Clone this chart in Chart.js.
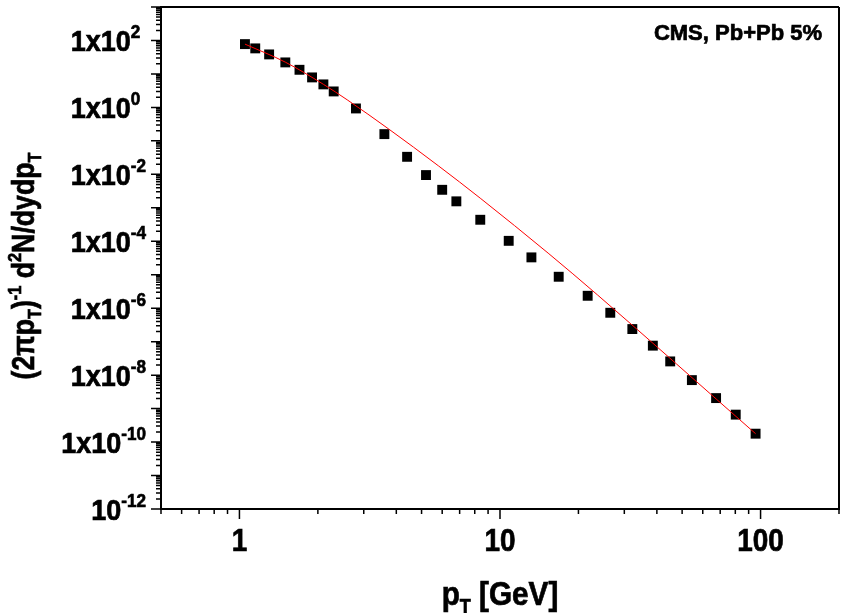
<!DOCTYPE html>
<html>
<head>
<meta charset="utf-8">
<script src="https://cdn.jsdelivr.net/npm/chart.js@4.4.0/dist/chart.umd.min.js"></script>
<style>
  html, body { margin: 0; padding: 0; background: #fff; }
</style>
</head>
<body>
<canvas id="spectrum" width="846" height="613"></canvas>
<script>
// CMS Pb+Pb 5% data points
const ptValues = [1.05, 1.15, 1.3, 1.5, 1.7, 1.9, 2.1, 2.3, 2.8, 3.6, 4.4, 5.2, 6.0, 6.8, 8.4,
  10.8, 13.2, 16.8, 21.7, 26.5, 32.2, 38.6, 45, 54.5, 67.5, 80.3, 95.7]
const yieldValues = [77.8, 58, 38.3, 22.1, 13.3, 7.87, 4.87, 3.0, 0.93, 0.159, 0.0334, 0.0095, 0.00345, 0.00156, 4.39e-4,
  1.03e-4, 3.3e-5, 8.7e-6, 2.35e-6, 7.3e-7, 2.38e-7, 7.6e-8, 2.57e-8, 7.1e-9, 2.06e-9, 6.6e-10, 1.78e-10]

// red fit curve
const fitPt = [1.05, 1.5, 2.1, 2.59, 3.74, 5.8, 8.44, 15.3, 23.7, 95.7]
const fitYield = [77.8, 22.5, 4.9, 1.69, 0.226, 0.018, 1.88e-3, 4.43e-5, 2.47e-6, 1.78e-10]

// tick labels
const xTickValues = [1, 10, 100]
const xTickLabels = ['1', '10', '100']
const yTickExponents = [2, 0, -2, -4, -6, -8, -10, -12]

const FONT = '"Liberation Sans", Arial, sans-serif'
const NARROW = 0.9

function drawRich(ctx, parts, x, y, align, sx, rotate) {
  let total = 0
  parts.forEach(p => {
    ctx.font = `bold ${p.size}px ${FONT}`
    p.w = ctx.measureText(p.t).width
    total += p.w
  })
  let cx = align === 'right' ? -total : align === 'center' ? -total / 2 : 0
  ctx.save()
  ctx.translate(x, y)
  if (rotate) ctx.rotate(rotate)
  ctx.scale(sx, 1)
  ctx.fillStyle = '#000'
  ctx.strokeStyle = '#000'
  ctx.lineWidth = 0.7
  ctx.textBaseline = 'alphabetic'
  ctx.textAlign = 'left'
  parts.forEach(p => {
    ctx.font = `bold ${p.size}px ${FONT}`
    ctx.fillText(p.t, cx, p.dy || 0)
    ctx.strokeText(p.t, cx, p.dy || 0)
    cx += p.w
  })
  ctx.restore()
}

const axesPlugin = {
  id: 'originAxes',
  afterDraw(chart) {
    const ctx = chart.ctx
    const area = chart.chartArea
    const xs = chart.scales.x
    const ys = chart.scales.y

    // frame top and right
    ctx.save()
    ctx.strokeStyle = '#000'
    ctx.lineWidth = 2
    ctx.beginPath()
    ctx.moveTo(area.left, area.top)
    ctx.lineTo(area.right, area.top)
    ctx.moveTo(area.right, area.top)
    ctx.lineTo(area.right, area.bottom)
    ctx.stroke()

    // ticks, long at every decade, short for 2..9
    ctx.lineWidth = 1.5
    ctx.beginPath()
    for (let d = -12; d <= 3; d++) {
      for (let m = 1; m <= 9; m++) {
        const v = m * Math.pow(10, d)
        if (v > 1.0001e3) continue
        const py = ys.getPixelForValue(v)
        const len = m === 1 ? 10 : 5
        ctx.moveTo(area.left - len, py)
        ctx.lineTo(area.left, py)
      }
    }
    for (let d = -1; d <= 2; d++) {
      for (let m = 1; m <= 9; m++) {
        const v = m * Math.pow(10, d)
        if (v < 0.4999 || v > 200.01) continue
        const px = xs.getPixelForValue(v)
        const len = m === 1 ? 10 : 5
        ctx.moveTo(px, area.bottom)
        ctx.lineTo(px, area.bottom + len)
      }
    }
    ctx.stroke()
    ctx.restore()

    // y tick labels
    ctx.save()
    ctx.font = `bold 19px ${FONT}`
    const minusW = ctx.measureText('-').width * NARROW
    ctx.restore()
    yTickExponents.forEach(e => {
      const py = ys.getPixelForValue(Math.pow(10, e))
      const base = e === -12 ? '10' : '1x10'
      const right = e >= 0 ? 146 - minusW : 146
      drawRich(ctx, [
        { t: base, size: 30 },
        { t: String(e), size: 19, dy: -13 }
      ], right, py + 11, 'right', NARROW)
    })

    // x tick labels
    xTickValues.forEach((v, i) => {
      const px = xs.getPixelForValue(v)
      drawRich(ctx, [{ t: xTickLabels[i], size: 31 }], px, 551, 'center', NARROW)
    })

    // x axis title
    drawRich(ctx, [
      { t: 'p', size: 33 },
      { t: 'T', size: 20, dy: 8 },
      { t: ' [GeV]', size: 33 }
    ], (area.left + area.right) / 2, 605, 'center', NARROW)

    // y axis title
    drawRich(ctx, [
      { t: '(2\u03C0p', size: 31 },
      { t: 'T', size: 19, dy: 7 },
      { t: ')', size: 31 },
      { t: '-1', size: 19, dy: -13 },
      { t: ' d', size: 31 },
      { t: '2', size: 19, dy: -13 },
      { t: 'N/dydp', size: 31 },
      { t: 'T', size: 19, dy: 7 }
    ], 34, 266, 'center', 0.86, -Math.PI / 2)

    // in-plot label
    drawRich(ctx, [{ t: 'CMS, Pb+Pb 5%', size: 22 }], 822, 40, 'right', 1)
  }
}

const ctx = document.getElementById('spectrum')
const spectrumChart = new Chart(ctx, {
  type: 'scatter',
  data: {
    datasets: [{
      label: 'fit',
      data: fitPt.map((x, i) => ({ x: x, y: fitYield[i] })),
      showLine: true,
      borderColor: '#ff0000',
      borderWidth: 1,
      pointRadius: 0,
      cubicInterpolationMode: 'monotone',
      fill: false
    }, {
      label: 'CMS, Pb+Pb 5%',
      data: ptValues.map((x, i) => ({ x: x, y: yieldValues[i] })),
      showLine: false,
      pointStyle: 'rect',
      pointRadius: 7,
      backgroundColor: '#000',
      borderColor: '#000',
      borderWidth: 0
    }]
  },
  options: {
    responsive: false,
    animation: false,
    devicePixelRatio: 1,
    layout: { padding: { top: 7, right: 4, left: 0, bottom: 0 } },
    scales: {
      x: {
        type: 'logarithmic',
        min: 0.5,
        max: 200,
        grid: { display: false },
        border: { display: true, color: '#000', width: 2 },
        ticks: { display: false },
        afterFit(scale) { scale.height = 104 }
      },
      y: {
        type: 'logarithmic',
        min: 1e-12,
        max: 1e3,
        grid: { display: false },
        border: { display: true, color: '#000', width: 2 },
        ticks: { display: false },
        afterFit(scale) { scale.width = 161 }
      }
    },
    plugins: {
      legend: { display: false },
      tooltip: { enabled: false }
    }
  },
  plugins: [axesPlugin]
})
</script>
</body>
</html>
